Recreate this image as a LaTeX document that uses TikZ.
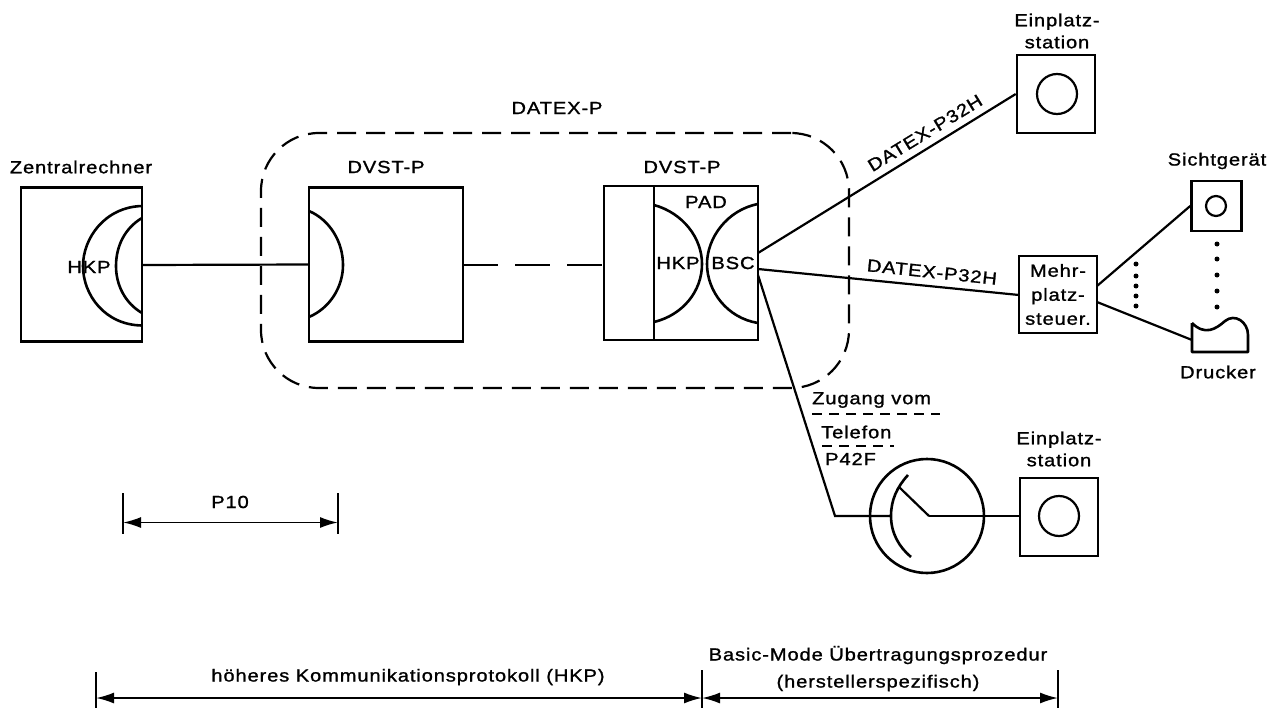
\documentclass[tikz,border=0pt]{standalone}
\usepackage{fontspec}
\setmainfont{Liberation Sans}[FakeStretch=1.15,LetterSpace=5,FakeBold=1.2]
\usetikzlibrary{arrows.meta}
\tikzset{
  line/.style={line width=2.2pt,black},
  thick line/.style={line width=2.6pt,black},
  boxnode/.style={draw,line width=2.6pt,inner sep=0pt,minimum width=#1,minimum height=#1},
  txt/.style={inner sep=0pt,font=\fontsize{17.5}{22}\selectfont,align=center},
  dim/.style={line width=1.8pt,{Latex[length=18pt,width=11pt]}-{Latex[length=18pt,width=11pt]}},
  dots/.style={fill=black,circle,inner sep=0pt,minimum size=5pt},
}
\begin{document}
\begin{tikzpicture}[x=1pt,y=-1pt]
\useasboundingbox (0,0) rectangle (1278,712);
% Zentralrechner
\node[txt] (zt) at (81,167) {Zentralrechner};
\node[draw,line width=2.6pt,inner sep=0pt,minimum width=121pt,minimum height=154pt] (z) at (81.5,264.5) {};
\draw[thick line] (142,206) .. controls (105,207) and (83,238) .. (83,266) .. controls (83,295) and (105,325) .. (142,325.5);
\draw[thick line] (142,218) .. controls (125,228) and (116,246) .. (116,266) .. controls (116,285) and (125,303) .. (142,313);
\node[txt] (hkpz) at (89,267) {HKP};
% DVST-P 1
\node[txt] (d1t) at (386,167) {DVST-P};
\node[draw,line width=2.6pt,inner sep=0pt,minimum width=154pt,minimum height=154pt] (d1) at (386,264.5) {};
\draw[thick line] (309,211) .. controls (330,220) and (343,242) .. (343,265) .. controls (343,287) and (330,308) .. (309,317);
% DVST-P 2
\node[txt] (d2t) at (682,167) {DVST-P};
\node[draw,line width=2.6pt,inner sep=0pt,minimum width=154pt,minimum height=154pt] (d2) at (681,263) {};
\coordinate (d2a) at (654,186);
\coordinate (d2b) at (654,340);
\draw[thick line] (d2a) -- (d2b);
\draw[thick line] (654,205) .. controls (683,213) and (702,238) .. (702,264) .. controls (702,291) and (683,315) .. (654,322);
\draw[thick line] (758,204) .. controls (727,210) and (707,238) .. (707,264) .. controls (707,291) and (727,318) .. (758,323);
\node[txt] (pad) at (706,202) {PAD};
\node[txt] (hkp2) at (678,263) {HKP};
\node[txt] (bsc) at (733,263) {BSC};
% DATEX-P cloud
\node[txt] (dp) at (557,108) {DATEX-P};
\node[draw,dash pattern=on 19pt off 10pt,line width=2.2pt,rounded corners=58pt,inner sep=0pt,minimum width=588pt,minimum height=255pt] (cloud) at (555,260.5) {};
% Connections
\draw[line] (142,265) -- (309,264.5);
\draw[line,dash pattern=on 35pt off 17pt] (463,265) -- (604,265);
% Einplatz top
\node[txt] (e1t) at (1057,31) {Einplatz-\\station};
\node[boxnode=78pt] (e1) at (1056,94) {};
\node[draw,circle,line width=2.2pt,minimum size=40pt,inner sep=0pt] (e1c) at (1057,94) {};
\coordinate (s1) at (758,253);
\draw[line] (s1) -- (e1.west);
\node[txt,rotate=31.5] (l1) at (925,133) {DATEX-P32H};
% Mehrplatz
\node[draw,line width=2.6pt,inner sep=0pt,minimum width=78pt,minimum height=77pt,font=\fontsize{17.5}{24}\selectfont,align=center] (m) at (1058,294.5) {Mehr-\\platz-\\steuer.};
\coordinate (s2) at (758,269);
\draw[line] (s2) -- (1019,295);
\node[txt,rotate=-6] (l2) at (932,272) {DATEX-P32H};
% Sichtgerät
\node[txt] (st) at (1217,161) {Sichtgerät};
\node[boxnode=50pt] (s) at (1216.5,206) {};
\node[draw,circle,line width=2.2pt,minimum size=20pt,inner sep=0pt] (sc) at (1216,206) {};
\draw[line] (1097,286) -- (s.west);
% Drucker
\coordinate (p1) at (1192,323);
\coordinate (p2) at (1192,352);
\coordinate (p3) at (1248,352);
\draw[thick line,line join=round] (p1) -- (p2) -- (p3) -- (1248,335) .. controls (1248,322) and (1235,313) .. (1225,321) .. controls (1216,329) and (1205,336) .. (p1);
\draw[line] (1097,302) -- (1192,340);
\node[txt] (dt) at (1218,372) {Drucker};
% dots
\foreach \y in {264,276,286,296,306} \node[dots] (da\y) at (1136,\y) {};
\foreach \y in {244,259,275,291,307} \node[dots] (db\y) at (1217,\y) {};
% Telefon
\node[txt,anchor=west] (zv) at (812,400) {Zugang vom};
\draw[line,dash pattern=on 10pt off 7pt] (812,414) -- (940,414);
\node[txt,anchor=west] (tf) at (821,432) {Telefon};
\draw[line,dash pattern=on 10pt off 7pt] (822,446) -- (894,446);
\node[txt,anchor=west] (p42) at (825,459) {P42F};
\node[draw,circle,line width=2.6pt,minimum size=114pt,inner sep=0pt] (tel) at (927,516) {};
\coordinate (arm) at (899,487);
\coordinate (hub) at (929,516);
\coordinate (bend) at (835,516);
\draw[thick line] (908,475) .. controls (897,487) and (891,500) .. (891,516) .. controls (891,533) and (899,547) .. (911,557);
\draw[line] (arm) -- (hub);
\node[boxnode=78pt] (e2) at (1059,517) {};
\node[draw,circle,line width=2.2pt,minimum size=40pt,inner sep=0pt] (e2c) at (1059,516) {};
\node[txt] (e2t) at (1059,449) {Einplatz-\\station};
\draw[line] (hub) -- (1020,516);
\draw[line] (758,275) -- (bend) -- (891,516);
% P10
\coordinate (a1) at (123,493);
\coordinate (a2) at (123,534);
\coordinate (b1) at (338,493);
\coordinate (b2) at (338,534);
\draw[line] (a1) -- (a2);
\draw[line] (b1) -- (b2);
\draw[dim] (a1 |- 0,522.5) -- (b1 |- 0,522.5);
\node[txt] (p10) at (230,502) {P10};
% bottom
\coordinate (c1) at (96,672);
\coordinate (c2) at (96,708);
\coordinate (e1a) at (702,670);
\coordinate (e1b) at (702,708);
\coordinate (f1) at (1058,670);
\coordinate (f2) at (1058,708);
\draw[line] (c1) -- (c2);
\draw[line] (e1a) -- (e1b);
\draw[line] (f1) -- (f2);
\draw[dim] (96,698) -- (702,698);
\draw[dim] (702,698) -- (1058,698);
\node[txt] (b1t) at (408,677) {höheres Kommunikationsprotokoll (HKP)};
\node[txt,font=\fontsize{17.5}{27}\selectfont] (b2t) at (878,668.5) {Basic-Mode Übertragungsprozedur\\(herstellerspezifisch)};
\end{tikzpicture}
\end{document}
